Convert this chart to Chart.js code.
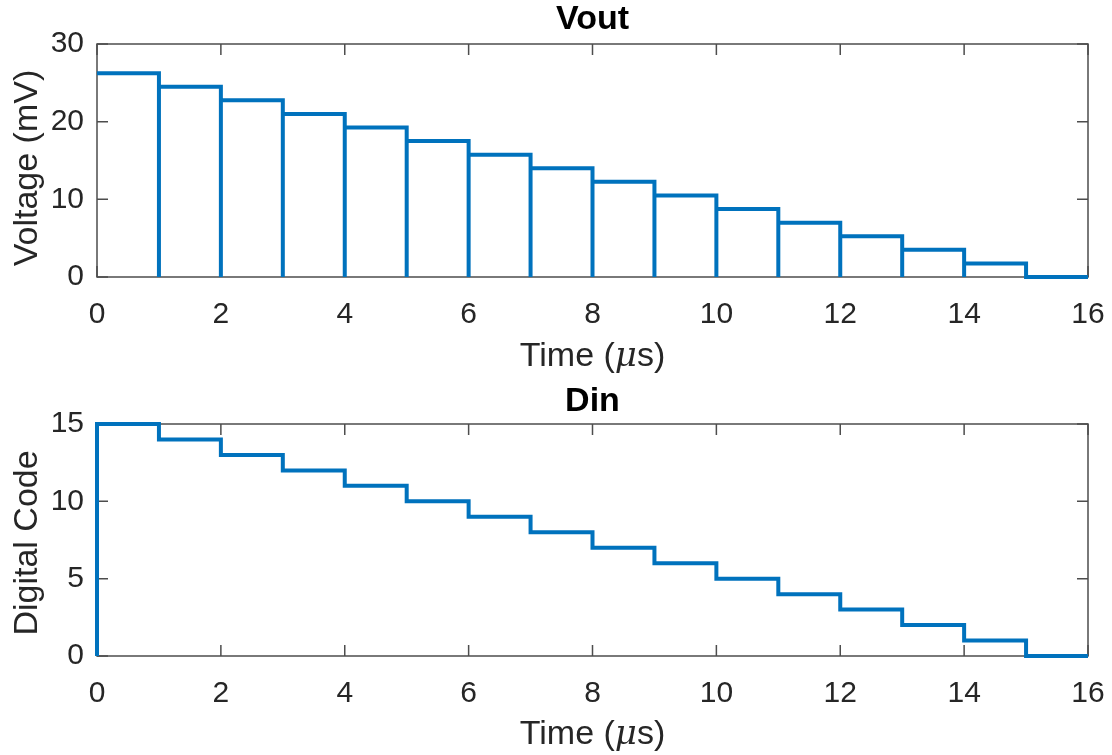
<!DOCTYPE html>
<html>
<head>
<meta charset="utf-8">
<script src="https://cdn.jsdelivr.net/npm/chart.js@4"></script>
<style>
  html, body { margin: 0; padding: 0; background: #fff; }
  .plot { position: absolute; left: 0; width: 1112px; }
  #top { top: 0; height: 378px; }
  #bot { top: 378px; height: 377px; }
</style>
</head>
<body>
<div class="plot" id="top"><canvas id="chartVout"></canvas></div>
<div class="plot" id="bot"><canvas id="chartDin"></canvas></div>
<script>
// data
const timeSteps = [0, 1, 2, 3, 4, 5, 6, 7, 8, 9, 10, 11, 12, 13, 14, 15];
const voutMv = [26.25, 24.5, 22.75, 21.0, 19.25, 17.5, 15.75, 14.0, 12.25, 10.5, 8.75, 7.0, 5.25, 3.5, 1.75, 0];
const dinCode = [15, 14, 13, 12, 11, 10, 9, 8, 7, 6, 5, 4, 3, 2, 1, 0];
const timeTicks = [0, 2, 4, 6, 8, 10, 12, 14, 16];
const voltTicks = [0, 10, 20, 30];
const codeTicks = [0, 5, 10, 15];

const lineBlue = '#0072BD';
const axisGray = '#4d4d4d';
const textGray = '#262626';
const fontFam = '"Liberation Sans", Arial, Helvetica, sans-serif';

// Vout returns to zero at every step edge
const voutPts = [];
timeSteps.forEach(function (t, i) {
    voutPts.push({ x: t, y: voutMv[i] });
    voutPts.push({ x: t + 1, y: voutMv[i] });
    voutPts.push({ x: t + 1, y: 0 });
});

// Din is a plain stair, starting from 0
const dinPts = [{ x: timeSteps[0], y: 0 }];
timeSteps.forEach(function (t, i) {
    dinPts.push({ x: t, y: dinCode[i] });
});
dinPts.push({ x: timeSteps[timeSteps.length - 1] + 1, y: dinCode[dinCode.length - 1] });

// MATLAB style box, inward ticks, titles and labels
const matlabAxes = {
    id: 'matlabAxes',
    beforeDatasetsDraw: function (chart) {
        const ctx = chart.ctx;
        const a = chart.chartArea;
        const xs = chart.scales.x;
        const ys = chart.scales.y;
        const tl = 11;
        ctx.save();
        ctx.strokeStyle = axisGray;
        ctx.lineWidth = 1.5;
        ctx.strokeRect(a.left, a.top, a.right - a.left, a.bottom - a.top);
        ctx.beginPath();
        xs.ticks.forEach(function (t) {
            const px = xs.getPixelForValue(t.value);
            ctx.moveTo(px, a.bottom); ctx.lineTo(px, a.bottom - tl);
            ctx.moveTo(px, a.top); ctx.lineTo(px, a.top + tl);
        });
        ys.ticks.forEach(function (t) {
            const py = ys.getPixelForValue(t.value);
            ctx.moveTo(a.left, py); ctx.lineTo(a.left + tl, py);
            ctx.moveTo(a.right, py); ctx.lineTo(a.right - tl, py);
        });
        ctx.stroke();
        ctx.restore();
    },
    afterDraw: function (chart, args, opts) {
        const ctx = chart.ctx;
        const a = chart.chartArea;
        const cx = (a.left + a.right) / 2;
        ctx.save();
        ctx.fillStyle = '#000';
        ctx.textAlign = 'center';
        ctx.textBaseline = 'alphabetic';
        ctx.font = 'bold 34px ' + fontFam;
        ctx.fillText(opts.title, cx, opts.titleY);

        // x label with italic mu
        ctx.fillStyle = textGray;
        const parts = [
            { s: 'Time (', f: '34px ' + fontFam },
            { s: '\u03bc', f: 'italic 34px "DejaVu Serif", "Liberation Serif", serif' },
            { s: 's)', f: '34px ' + fontFam }
        ];
        let w = 0;
        parts.forEach(function (p) { ctx.font = p.f; p.w = ctx.measureText(p.s).width; w += p.w; });
        let x = cx - w / 2;
        ctx.textAlign = 'left';
        parts.forEach(function (p) {
            ctx.font = p.f;
            ctx.fillText(p.s, x, opts.xLabelY);
            x += p.w;
        });

        // y label
        ctx.translate(opts.yLabelX, opts.yLabelY);
        ctx.rotate(-Math.PI / 2);
        ctx.textAlign = 'center';
        ctx.font = '34px ' + fontFam;
        ctx.fillText(opts.yLabel, 0, 0);
        ctx.restore();
    }
};

function makeConfig(points, stepped, yMin, yMax, opts) {
    return {
        type: 'line',
        data: {
            datasets: [{
                data: points,
                stepped: stepped,
                borderColor: lineBlue,
                borderWidth: 4,
                pointRadius: 0,
                fill: false,
                clip: false
            }]
        },
        options: {
            responsive: true,
            maintainAspectRatio: false,
            animation: false,
            events: [],
            layout: { padding: { top: opts.padTop, right: 24, left: 0, bottom: 0 } },
            scales: {
                x: {
                    type: 'linear',
                    min: timeTicks[0],
                    max: timeTicks[timeTicks.length - 1],
                    afterBuildTicks: function (s) { s.ticks = timeTicks.map(function (v) { return { value: v }; }); },
                    afterFit: function (s) { s.height = opts.xAxisH; s.paddingLeft = 0; s.paddingRight = 0; },
                    grid: { display: false },
                    border: { display: false },
                    ticks: { color: textGray, font: { size: 30, family: fontFam }, padding: 12, maxRotation: 0 }
                },
                y: {
                    min: yMin,
                    max: yMax,
                    afterBuildTicks: function (s) { s.ticks = opts.yTicks.map(function (v) { return { value: v }; }); },
                    afterFit: function (s) { s.width = 97; s.paddingTop = 0; s.paddingBottom = 0; },
                    grid: { display: false },
                    border: { display: false },
                    ticks: { color: textGray, font: { size: 30, family: fontFam }, padding: 5 }
                }
            },
            plugins: {
                legend: { display: false },
                tooltip: { enabled: false },
                matlabAxes: opts
            }
        },
        plugins: [matlabAxes]
    };
}

new Chart(document.getElementById('chartVout'), makeConfig(voutPts, false, 0, 30, {
    padTop: 44, xAxisH: 101, yTicks: voltTicks,
    title: 'Vout', titleY: 29, xLabelY: 366, yLabel: 'Voltage (mV)', yLabelX: 37, yLabelY: 168
}));

new Chart(document.getElementById('chartDin'), makeConfig(dinPts, true, 0, 15, {
    padTop: 46, xAxisH: 99, yTicks: codeTicks,
    title: 'Din', titleY: 33, xLabelY: 366, yLabel: 'Digital Code', yLabelX: 37, yLabelY: 165
}));
</script>
</body>
</html>
